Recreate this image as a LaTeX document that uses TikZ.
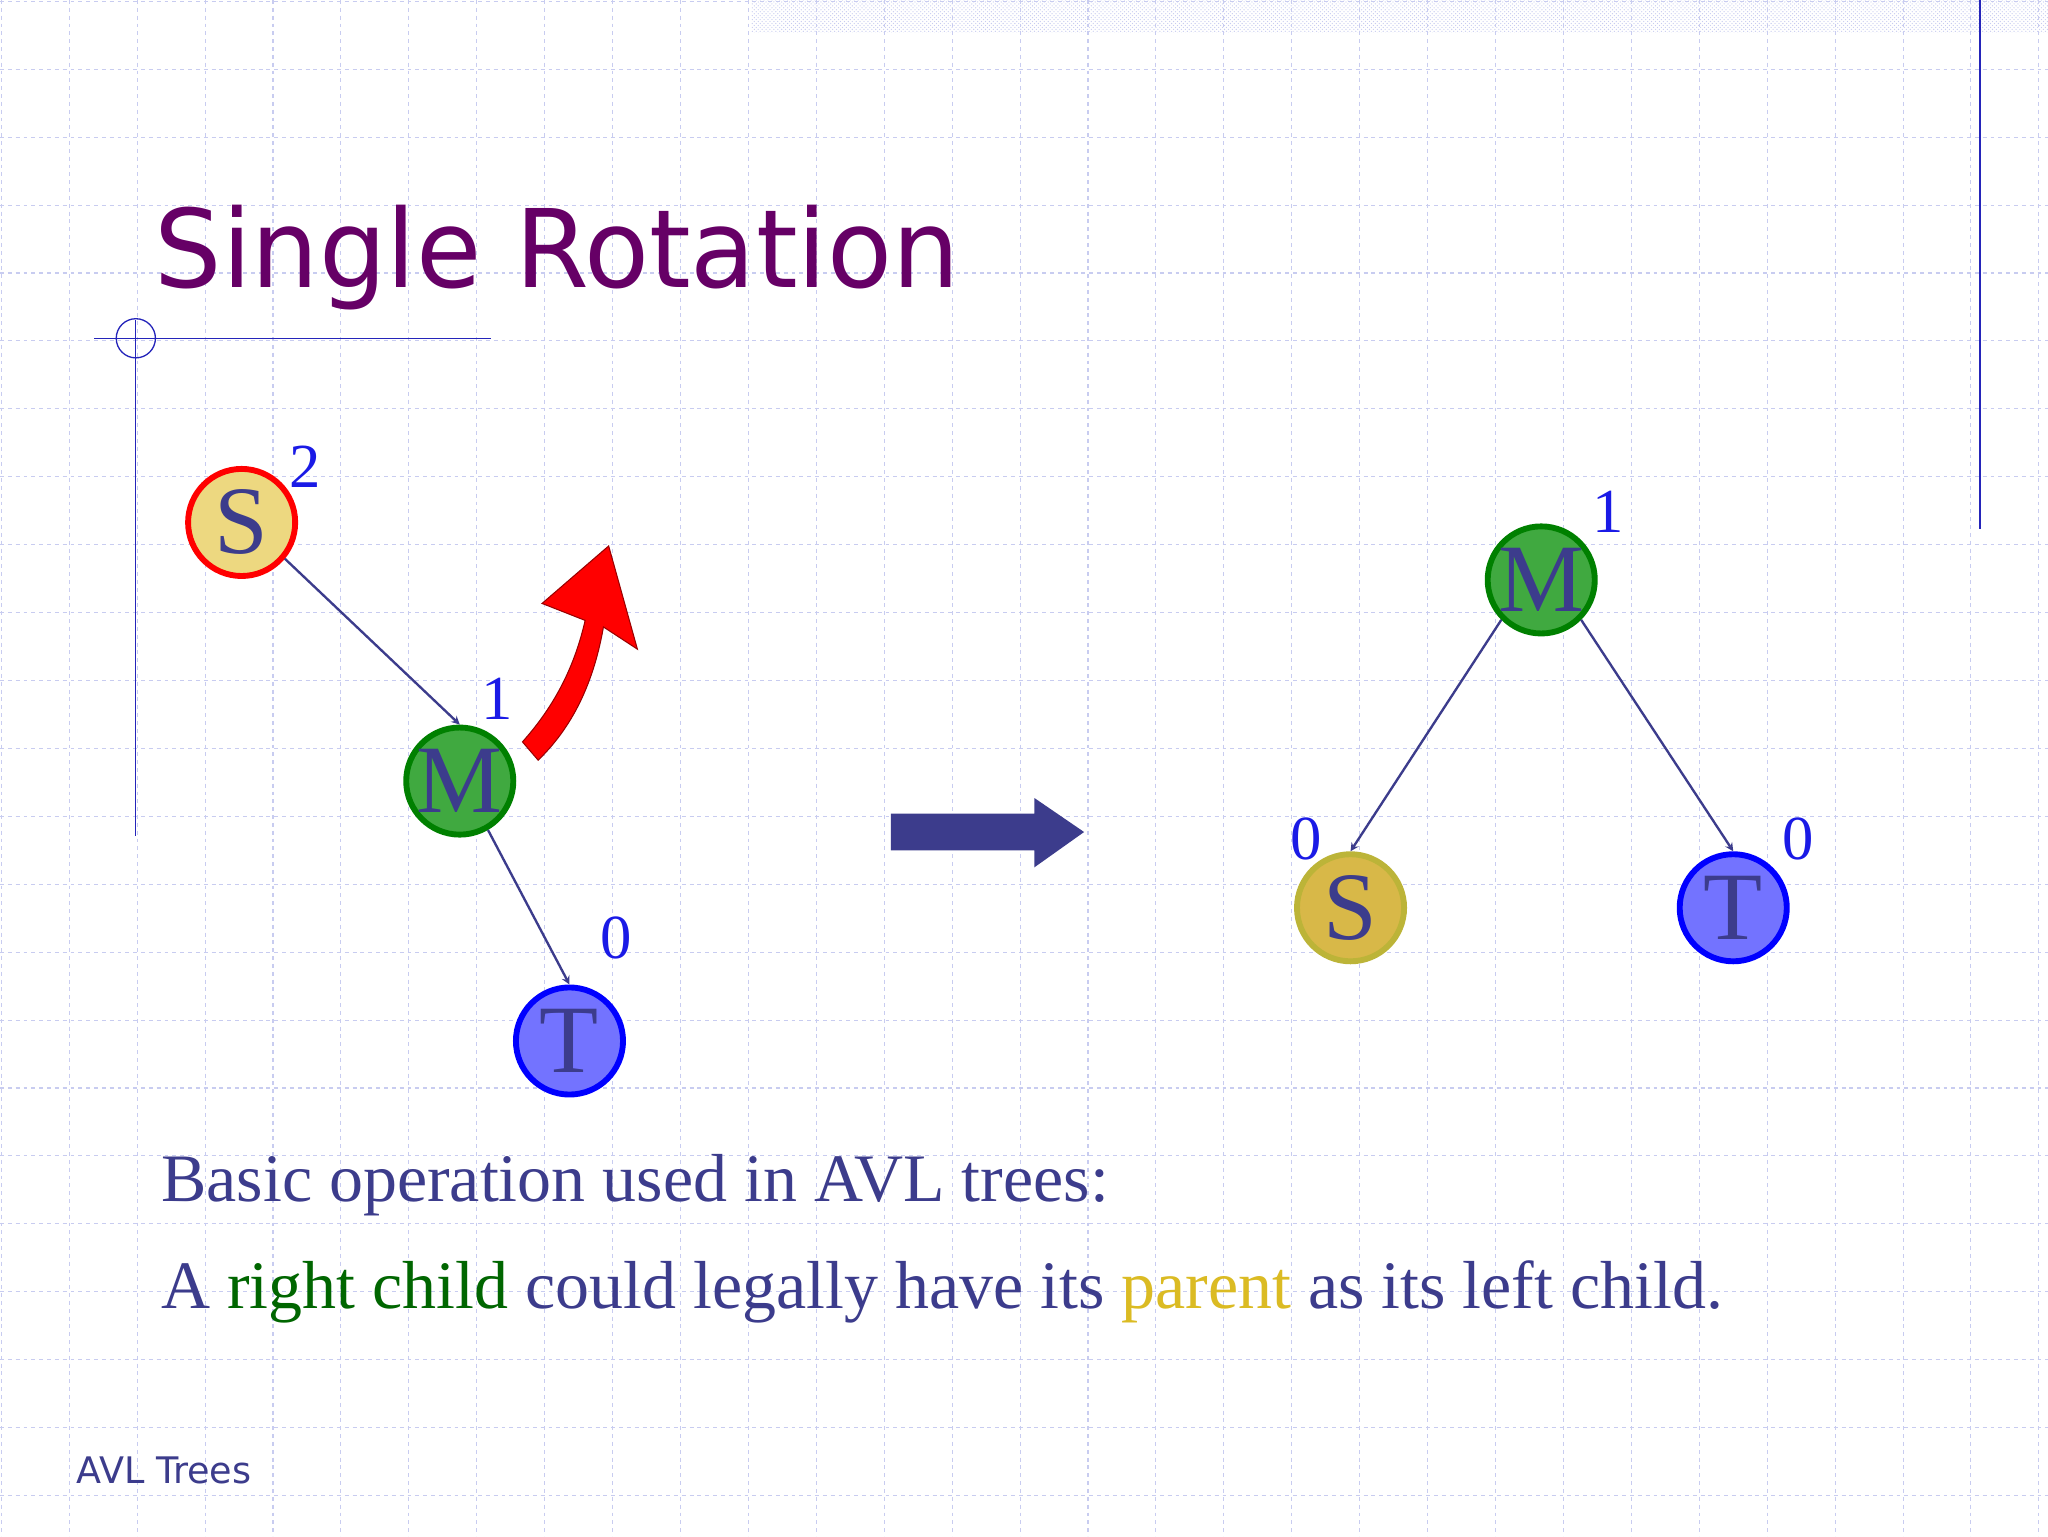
\documentclass[tikz,border=0pt]{standalone}
\usepackage{fontspec}
\setmainfont{Liberation Serif}
\newfontfamily\titlefont{DejaVu Sans}
\usetikzlibrary{patterns}
\definecolor{navy}{HTML}{3C3C8C}
\definecolor{ttl}{HTML}{660066}
\definecolor{grid}{HTML}{C8CCF0}
\definecolor{lblue}{HTML}{1A1AE6}
\definecolor{ochre}{HTML}{D8B848}
\tikzset{
 nd/.style={circle,minimum size=82pt,inner sep=0pt,line width=4.5pt,text=navy,font=\fontsize{74}{74}\selectfont},
 edge/.style={draw=navy,line width=1.8pt,-stealth},
 bal/.style={text=lblue,font=\fontsize{48}{48}\selectfont},
}
\begin{document}
\begin{tikzpicture}[x=1pt,y=-1pt]
\fill[white] (0,0) rectangle (1568,1176);
\useasboundingbox (0,0) rectangle (1568,1176);
\foreach \i in {0,...,30} \draw[grid,dashed,line width=0.8pt] (\i*52+1,0) -- (\i*52+1,1176);
\foreach \i in {0,...,23} \draw[grid,dashed,line width=0.8pt] (0,\i*52+1) -- (1568,\i*52+1);
\fill[pattern=crosshatch dots,pattern color=grid] (575,0) rectangle (1568,25);
\draw[navy!60!blue,line width=1pt] (1516,0) -- (1516,405);
\draw[navy!60!blue,line width=1pt] (72,259) -- (376,259);
\draw[navy!60!blue,line width=1pt] (104,245) -- (104,640);
\draw[navy!60!blue,line width=1pt] (104,259) circle (15);
\node[anchor=base west,text=ttl,font=\titlefont\fontsize{83}{83}\selectfont,xscale=0.98] (title) at (115,220) {Single Rotation};
% left tree
\node[nd,fill=yellow!50!brown!60!white,draw=red] (S1) at (185,400) {S};
\node[nd,fill=green!55!black!75,draw=green!50!black] (M1) at (352,598) {M};
\node[nd,fill=blue!55!white,draw=blue] (T1) at (436,797) {T};
\draw[edge] (S1.-40) -- (M1.north);
\draw[edge] (M1.-60) -- (T1.north);
\node[bal] (b1) at (234,357) {2};
\node[bal] (b2) at (381,535) {1};
\node[bal] (b3) at (472,718) {0};
% red arrow
\fill[red,draw=red!60!black,line width=0.8pt] (400,568) .. controls (425,540) and (440,510) .. (448,475) -- (415,462) -- (466,418) -- (488,497) -- (462,480) .. controls (455,520) and (440,555) .. (412,582) -- cycle;
% big arrow
\fill[navy] (682,623) -- (792,623) -- (792,611) -- (830,637) -- (792,664) -- (792,651) -- (682,651) -- cycle;
% right tree
\node[nd,fill=green!55!black!75,draw=green!50!black] (M2) at (1180,444) {M};
\node[nd,fill=ochre,draw=yellow!70!black] (S2) at (1034,695) {S};
\node[nd,fill=blue!55!white,draw=blue] (T2) at (1327,695) {T};
\draw[edge] (M2.-135) -- (S2.north);
\draw[edge] (M2.-45) -- (T2.north);
\node[bal] (b4) at (1231,392) {1};
\node[bal] (b5) at (1000,642) {0};
\node[bal] (b6) at (1377,642) {0};
% text
\node[anchor=base west,text=navy,font=\fontsize{52}{52}\selectfont] (l1) at (120,920) {Basic operation used in AVL trees:};
\node[anchor=base west,text=navy,font=\fontsize{52}{52}\selectfont] (l2) at (120,1002) {A \textcolor{green!40!black}{right child} could legally have its \textcolor{yellow!70!orange!85!black}{parent} as its left child.};
\node[anchor=base west,text=navy,font=\titlefont\fontsize{28}{28}\selectfont] (ft) at (55,1136) {AVL Trees};
\end{tikzpicture}
\end{document}
